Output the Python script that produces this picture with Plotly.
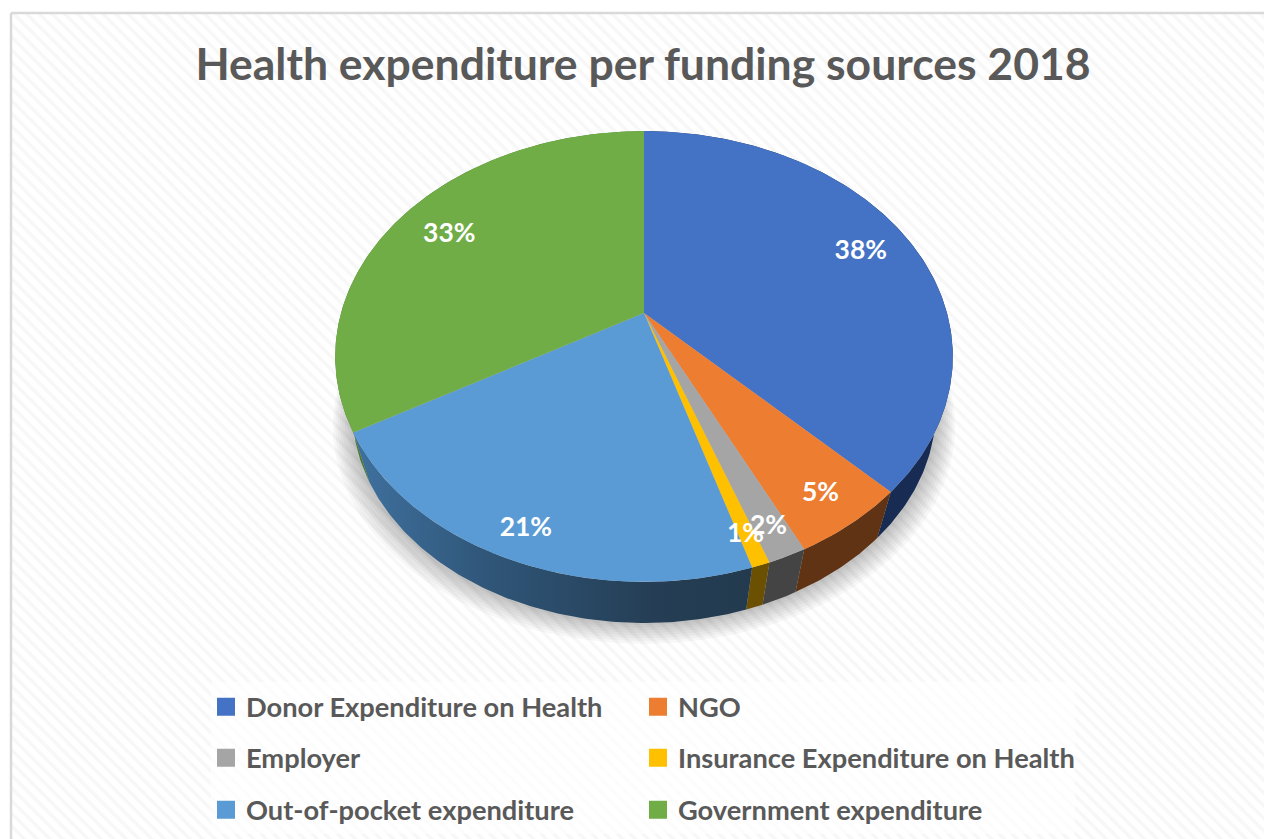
import numpy as np
import plotly.graph_objects as go

categories = ["Donor Expenditure on Health", "NGO", "Employer",
              "Insurance Expenditure on Health", "Out-of-pocket expenditure",
              "Government expenditure"]
shares = [37.6, 5.2, 1.7, 0.8, 21.4, 33.3]
top_colors = ["#4472C4", "#ED7D31", "#A5A5A5", "#FFC000", "#5B9BD5", "#70AD47"]
side_colors = ["#182B52", "#5F3314", "#444444", "#6A5000", "#3B6A96", "#4A7A2E"]
label_radius = [0.82, 0.87, 0.89, 0.89, 0.89, 0.80]
title_text = "Health expenditure per funding sources 2018"

W, H = 1264, 839
CX, CY = 644.0, 313.0      # apex of the pie on the page
A, B, K = 303.0, 217.0, 0.193  # perspective of the tilted disc
S, VY = 0.945, 1330.0      # lower rim of the disc
FONT = "Lato"
TEXT = "#595959"


def project(theta, r=1.0):
    u, v = r * np.sin(theta), r * np.cos(theta)
    d = 1 + K * v
    return CX + A * u / d, CY - B * v / d


def lower(x, y, scale=S):
    return CX + scale * (x - CX), VY + scale * (y - VY)


def arc(t0, t1):
    n = max(4, int(abs(t1 - t0) / 0.01))
    return np.linspace(t0, t1, n)


fractions = np.array(shares) / sum(shares)
edges = np.concatenate([[0], np.cumsum(fractions)]) * 2 * np.pi

fig = go.Figure()

# chart-area background with its fine diagonal hatch
fig.add_trace(go.Scatter(
    x=[11, W + 5, W + 5, 11, 11], y=[13, 13, H + 5, H + 5, 13],
    mode="lines", fill="toself", fillcolor="white",
    fillpattern=dict(shape="\\", size=9, solidity=0.4, fgcolor="#f0f0f0", bgcolor="white"),
    line=dict(color="#D9D9D9", width=2.5), hoverinfo="skip", showlegend=False))

# soft shadow under the disc
all_t = np.linspace(0, 2 * np.pi, 361)
px, py = project(all_t)
lx, ly = lower(px, py)
cy_low = ly.mean()
for grow_x, grow_y, off in [(1.066, 1.020, 16), (1.058, 1.017, 14), (1.050, 1.014, 12), (1.042, 1.011, 10),
                            (1.034, 1.008, 8), (1.026, 1.005, 6), (1.018, 1.003, 4), (1.010, 1.001, 2)]:
    fig.add_trace(go.Scatter(
        x=CX + (lx - CX) * grow_x, y=cy_low + (ly - cy_low) * grow_y + off,
        mode="lines", fill="toself", fillcolor="rgba(0,0,0,0.032)", line=dict(width=0),
        hoverinfo="skip", showlegend=False))

# side walls
for i, name in enumerate(categories):
    t = arc(edges[i], edges[i + 1])
    x, y = project(t)
    sx, sy = lower(x, y)
    kw = dict(fillcolor=side_colors[i])
    if name == "Out-of-pocket expenditure":
        kw["fillgradient"] = dict(type="horizontal", colorscale=[
            [0, "#3F719F"], [0.35, "#2F5577"], [0.75, "#253E55"], [1, "#233A4E"]])
    fig.add_trace(go.Scatter(
        x=np.concatenate([x, sx[::-1], x[:1]]), y=np.concatenate([y, sy[::-1], y[:1]]),
        mode="lines", fill="toself", line=dict(width=0), hoverinfo="skip", showlegend=False, **kw))

# top faces
for i, name in enumerate(categories):
    x, y = project(arc(edges[i], edges[i + 1]))
    fig.add_trace(go.Scatter(
        x=np.concatenate([[CX], x, [CX]]), y=np.concatenate([[CY], y, [CY]]),
        mode="lines", fill="toself", fillcolor=top_colors[i], line=dict(width=0),
        name=name, hoverinfo="text", text=f"{name}: {round(shares[i])}%", showlegend=False))

# percentage labels
mid = (edges[:-1] + edges[1:]) / 2
lab_x, lab_y = project(mid, np.array(label_radius))
fig.add_trace(go.Scatter(
    x=lab_x, y=lab_y + 3, mode="text", text=[f"{round(v)}%" for v in shares],
    textposition="middle center", hoverinfo="skip", showlegend=False,
    textfont=dict(family=FONT, size=26.5, color="white", weight=700)))

# legend entries, two columns by three rows
legend_cells = [(206, 707), (638, 707), (206, 758), (638, 758), (206, 810), (638, 810)]
legends = {}
for i, name in enumerate(categories):
    key = "legend" if i == 0 else f"legend{i + 1}"
    fig.add_trace(go.Scatter(
        x=[None], y=[None], mode="markers", name=name, legend=key, showlegend=True,
        marker=dict(symbol="square", size=16, color=top_colors[i],
                    line=dict(width=2, color=top_colors[i]))))
    lx0, ly0 = legend_cells[i]
    legends[key] = dict(x=lx0 / W, y=1 - ly0 / H, xanchor="left", yanchor="middle",
                        bgcolor="rgba(0,0,0,0)", borderwidth=0, itemsizing="trace",
                        font=dict(family=FONT, size=27.25, color=TEXT, weight=700))

fig.update_layout(
    width=W, height=H, autosize=False,
    margin=dict(l=0, r=0, t=0, b=0, pad=0),
    paper_bgcolor="white", plot_bgcolor="white",
    xaxis=dict(range=[0, W], visible=False, fixedrange=True),
    yaxis=dict(range=[H, 0], visible=False, fixedrange=True),
    title=dict(text=title_text, x=643 / W, y=1 - 64 / H, xanchor="center", yanchor="middle",
               font=dict(family=FONT, size=44.5, color=TEXT, weight=700)),
    shapes=[dict(type="rect", xref="x", yref="y", x0=211, x1=1075, y0=682, y1=834,
                 line=dict(width=0), fillcolor="rgba(255,255,255,0.65)", layer="above")],
    **legends)

fig.write_html("out.html", config=dict(displayModeBar=False),
               post_script="document.body.style.margin='0';document.body.style.overflow='hidden';")
